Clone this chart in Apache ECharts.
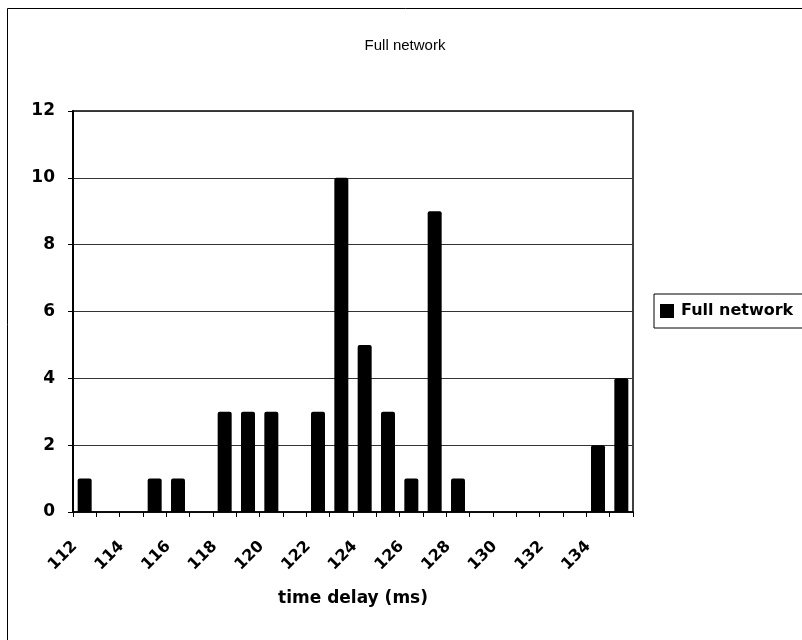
<!DOCTYPE html>
<html>
<head>
<meta charset="utf-8">
<script src="https://cdn.jsdelivr.net/npm/echarts@6/dist/echarts.min.js"></script>
<style>html,body{margin:0;padding:0;background:#fff}#c{width:802px;height:640px}</style>
</head>
<body>
<div id="c"></div>
<script>
const categories = ['112','113','114','115','116','117','118','119','120','121','122','123','124','125','126','127','128','129','130','131','132','133','134','135'];
const counts = [1,0,0,1,1,0,3,3,3,0,3,10,5,3,1,9,1,0,0,0,0,0,2,4];
const seriesName = 'Full network';
const titleText = 'Full network';
const xAxisTitle = 'time delay (ms)';

const chart = echarts.init(document.getElementById('c'));
const font = 'Liberation Sans, Arial, sans-serif';
const boldFont = 'DejaVu Sans, sans-serif';
chart.setOption({
  animation: false,
  backgroundColor: '#fff',
  title: {
    text: titleText, left: 400, top: 33, textAlign: 'center',
    textStyle: {fontFamily: font, fontSize: 15, fontWeight: 'normal', color: '#000'}
  },
  legend: {
    left: 654, top: 294, orient: 'vertical',
    itemWidth: 14, itemHeight: 14, itemGap: 0,
    padding: [9, 30, 9, 6],
    borderColor: '#000', borderWidth: 1,
    icon: 'rect',
    textStyle: {fontFamily: boldFont, fontSize: 16, fontWeight: 'bold', color: '#000', padding: [0,0,0,2]},
    data: [seriesName]
  },
  grid: {left: 73, right: 169, top: 111, bottom: 128, show: true, borderColor: '#000', borderWidth: 1.5, containLabel: false},
  xAxis: {
    type: 'category', data: categories,
    name: xAxisTitle, nameLocation: 'middle', nameGap: 78,
    nameTextStyle: {fontFamily: boldFont, fontSize: 17, fontWeight: 'bold', color: '#000'},
    axisLine: {lineStyle: {color: '#000', width: 1.5}},
    axisTick: {show: true, alignWithLabel: false, interval: 0, length: 5, lineStyle: {color: '#000'}},
    axisLabel: {interval: 1, rotate: 45, margin: 22, padding: [0, 14, 0, 0], fontFamily: boldFont, fontSize: 16, fontWeight: 'bold', color: '#000'}
  },
  yAxis: {
    type: 'value', min: 0, max: 12, interval: 2,
    axisLine: {show: true, lineStyle: {color: '#000', width: 2}},
    axisTick: {show: true, length: 5, lineStyle: {color: '#000'}},
    axisLabel: {margin: 18, fontFamily: boldFont, fontSize: 17, fontWeight: 'bold', color: '#000'},
    splitLine: {lineStyle: {color: '#333', width: 1}}
  },
  series: [{
    name: seriesName, type: 'bar', data: counts,
    barCategoryGap: '40%',
    itemStyle: {color: '#000', borderRadius: [2,2,0,0]}
  }],
  graphic: [{
    type: 'rect', shape: {x: 7.5, y: 8.5, width: 800, height: 640},
    style: {fill: null, stroke: '#000', lineWidth: 1}, silent: true
  }]
});
</script>
</body>
</html>
